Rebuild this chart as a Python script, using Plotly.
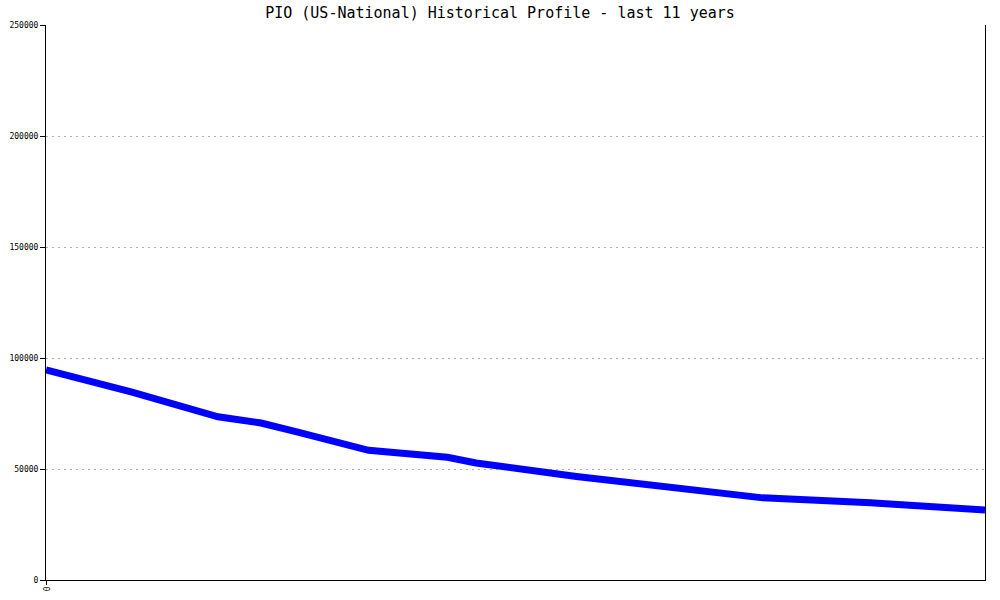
import plotly.graph_objects as go

# month index since start of 11-year window
months = [0, 12, 24, 30, 35, 45, 56, 60, 74, 86, 93, 100, 115, 131]
values = [94600, 84600, 73500, 70700, 66700, 58400, 55300, 52700, 46600, 42300, 40200, 37000, 34800, 31500]

y_ticks = [0, 50000, 100000, 150000, 200000, 250000]
y_ticklabels = ["0", "50000", "100000", "150000", "200000", "250000"]
x_ticks = [0]
x_ticklabels = ["0"]
title = "PIO (US-National) Historical Profile - last 11 years"

fig = go.Figure()
fig.add_trace(go.Scatter(x=months, y=values, mode="lines",
                         line=dict(color="#0000ff", width=7),
                         hoverinfo="skip", showlegend=False))

fig.update_layout(
    width=1000, height=600,
    paper_bgcolor="white", plot_bgcolor="white",
    margin=dict(l=46, r=15, t=25, b=20, autoexpand=False),
    title=dict(text=title, x=0.5, xanchor="center", y=1 - 13/600, yanchor="middle",
               font=dict(family="DejaVu Sans Mono", size=15, color="black")),
    font=dict(family="DejaVu Sans Mono", size=8, color="black"),
)
fig.update_xaxes(range=[0, 131], tickvals=x_ticks, ticktext=x_ticklabels, tickangle=90,
                 showgrid=False, zeroline=False, showline=True, linecolor="black", linewidth=1,
                 ticks="outside", ticklen=4, tickcolor="black", mirror=False,
                 tickfont=dict(family="DejaVu Sans Mono", size=8))
fig.update_yaxes(range=[0, 250000], tickvals=y_ticks, ticktext=y_ticklabels,
                 showgrid=True, gridcolor="#b0b0b0",
                 griddash="2px,4px", gridwidth=1, zeroline=False,
                 showline=True, linecolor="black", linewidth=1, mirror=True,
                 ticks="outside", ticklen=5, tickcolor="black",
                 tickfont=dict(family="DejaVu Sans Mono", size=8))

fig.write_html("out.html", config={"displayModeBar": False},
               post_script="document.body.style.margin='0';")
